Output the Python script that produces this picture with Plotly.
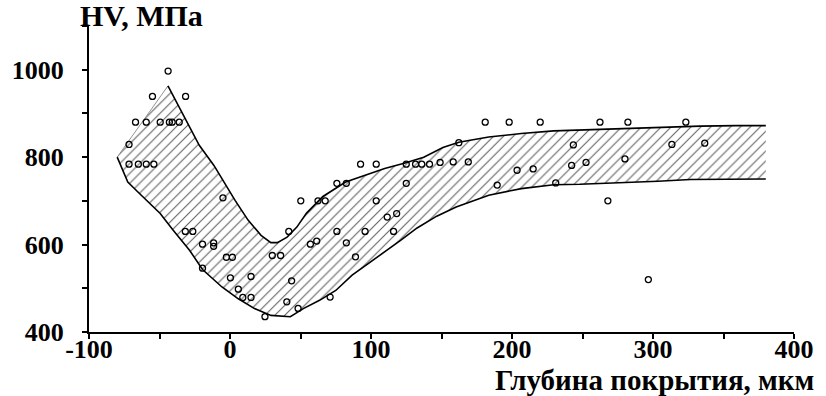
import plotly.graph_objects as go

# Measured points: depth (мкм) and HV (МПа)
depth = [-43.9, -55, -31.5, -67, -59.4, -49.5, -43, -41, -36, -71.6,
         -71.6, -65, -59.4, -54,
         -5, -31.7, -26.4, -19.5, -11.6, -11.6, -2.6, 1.7, -19.5, 0.3, 14.9,
         5.9, 9.1, 14.9, 24.8, 41.7, 30, 35.9, 43.7, 40.3, 48.3,
         50.2, 62.4, 67.5, 57, 61.5, 71, 75.8, 82.5, 75.8, 82.5, 89, 95.8,
         92.6, 103.7, 103.7, 111.5, 118.2, 116, 125, 125, 131.6, 136, 141.5, 149,
         158.3, 169, 162.3, 181, 198, 220, 189.5, 203.6, 215, 231, 243.5, 242.3,
         252.5, 262.4, 282.2, 323.3, 280.1, 268, 296.7, 313.4, 336.7]
hv = [997, 939, 939, 880, 880, 880, 880, 880, 880, 829,
      784, 784, 784, 784,
      707, 630, 630, 601, 604, 596, 571, 571, 546, 524, 527,
      498, 479, 479, 435, 630, 575, 575, 517, 469, 454,
      700, 700, 700, 601, 608, 480, 740, 740, 630, 604, 572, 630,
      784, 784, 700, 663, 671, 630, 740, 784, 784, 784, 784, 788,
      789, 789, 833, 880, 880, 880, 736, 770, 773, 741, 828, 781,
      788, 880, 880, 880, 796, 700, 520, 829, 832]

# Scatter band boundaries
upper_x = [-80, -44, -35.6, -21.8, -11.4, -4.5, 3.6, 12.8, 22, 29, 33.6, 40.5,
           47.4, 54.3, 65.9, 82, 95.8, 109.7, 123.5, 137.4, 151, 162.3, 183.5,
           206.6, 229.6, 248, 269, 305.7, 333.4, 359, 380]
upper_y = [800, 963, 911, 827, 781, 743, 701, 656, 621, 604.5, 604.5, 617,
           640, 672, 710, 743, 759, 774, 786, 800, 822, 834, 846,
           854, 860, 862, 864, 868, 871, 872, 872]
lower_x = [-80, -72.5, -63.3, -49.5, -40.3, -28.7, -19.5, -5.7, 5.9, 17.4, 29,
           42.8, 52, 63.5, 75, 86.6, 98, 109.7, 121.2, 132.7, 146.6, 160.4,
           183.5, 206.6, 229.6, 248, 269, 303.5, 326.5, 358.8, 380]
lower_y = [800, 743, 714, 671, 633, 587, 543, 503, 476, 453.5, 438,
           435, 453.5, 472.5, 495, 530, 556.5, 583, 610, 638, 665, 686,
           713, 728, 737, 738, 740, 745, 749, 749, 750]

x_ticks = [-100, 0, 100, 200, 300, 400]
x_ticktext = ["-100", "0", "100", "200", "300", "400"]
y_ticks = [400, 600, 800, 1000]
y_ticktext = ["400", "600", "800", "1000"]

FONT = "Liberation Serif"

fig = go.Figure()

# hatched band
fig.add_trace(go.Scatter(
    x=upper_x + lower_x[::-1], y=upper_y + lower_y[::-1],
    mode="lines", fill="toself", line=dict(width=0, color="rgba(0,0,0,0)"),
    fillcolor="rgba(0,0,0,0)",
    fillpattern=dict(shape="/", fgcolor="#5e5e5e", bgcolor="white",
                     size=7, solidity=0.15, fillmode="replace"),
    hoverinfo="skip", showlegend=False))
# left edge (thin)
fig.add_trace(go.Scatter(x=upper_x[:2], y=upper_y[:2], mode="lines",
                         line=dict(color="#777", width=0.8), showlegend=False))
# upper and lower curves
fig.add_trace(go.Scatter(x=upper_x[1:], y=upper_y[1:], mode="lines",
                         line=dict(color="black", width=1.6), showlegend=False))
fig.add_trace(go.Scatter(x=lower_x, y=lower_y, mode="lines",
                         line=dict(color="black", width=1.6), showlegend=False))
# data points
fig.add_trace(go.Scatter(x=depth, y=hv, mode="markers",
                         marker=dict(symbol="circle-open", size=6,
                                     color="black", line=dict(width=1.3, color="black")),
                         showlegend=False))

fig.update_layout(
    width=826, height=396,
    margin=dict(l=77, r=24, t=26, b=64),
    paper_bgcolor="white", plot_bgcolor="white",
    font=dict(family=FONT, color="black"),
    showlegend=False,
    xaxis=dict(range=[-100, 400], tickvals=x_ticks, ticktext=x_ticktext,
               showgrid=False, zeroline=False, showline=True, linecolor="black",
               linewidth=2, ticks="outside", ticklen=5, tickwidth=2, tickcolor="black",
               minor=dict(dtick=50, tick0=0, ticks="outside", ticklen=5, tickwidth=2,
                          tickcolor="black", showgrid=False),
               tickfont=dict(family=FONT, size=26, color="black", weight="bold"),
               ticklabelstandoff=-12),
    yaxis=dict(range=[400, 1100], tickvals=y_ticks, ticktext=y_ticktext,
               showgrid=False, zeroline=False, showline=True, linecolor="black",
               linewidth=2, ticks="outside", ticklen=5, tickwidth=2, tickcolor="black",
               minor=dict(dtick=100, tick0=0, ticks="outside", ticklen=5, tickwidth=2,
                          tickcolor="black", showgrid=False),
               tickfont=dict(family=FONT, size=26, color="black", weight="bold"),
               ticklabelstandoff=13),
    annotations=[
        dict(text="<b>HV, МПа</b>", xref="paper", yref="paper", x=0.0, y=1.0,
             xanchor="left", yanchor="bottom", showarrow=False, xshift=-11, yshift=-8,
             font=dict(family=FONT, size=30, color="black")),
        dict(text="<b>Глубина покрытия, мкм</b>", xref="paper", yref="paper",
             x=1.0, y=0, xanchor="right", yanchor="top", showarrow=False,
             xshift=22, yshift=-30,
             font=dict(family=FONT, size=29, color="black")),
    ],
)

fig.write_html("out.html", config={"displayModeBar": False},
               post_script="document.body.style.margin='0';document.body.style.overflow='hidden';")
